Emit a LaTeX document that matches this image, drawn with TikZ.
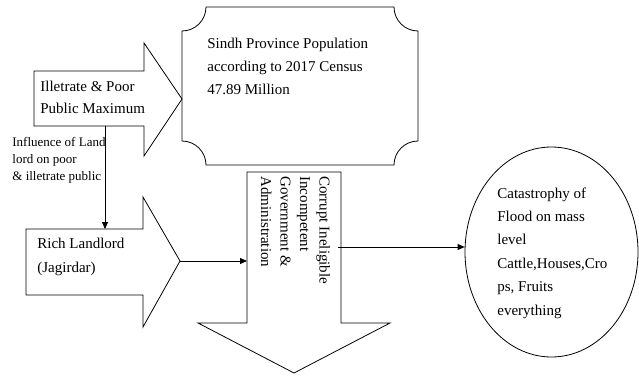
\documentclass[tikz,border=0pt]{standalone}
\usepackage{fontspec}
\setmainfont{Liberation Serif}
\usetikzlibrary{arrows.meta,shapes.geometric}

\begin{document}
\begin{tikzpicture}
  [x=1pt,y=-1pt,line width=.8pt,
   txt/.style={align=left,anchor=base west,inner sep=0pt,font=\fontsize{15}{23}\selectfont},
   small/.style={align=left,anchor=base west,inner sep=0pt,font=\fontsize{13}{17}\selectfont},
   tip/.style={-{Triangle[length=7pt,width=6pt]}}]

  \useasboundingbox (0,0) rectangle (639,375);

  % illetrate public
  \def\x{34}
  \def\y{71}

  \draw  (\x,\y) -- (\x +110,\y) -- (\x +110,\y -28) -- (\x +148,\y +28)
    -- (\x +110,\y +85) -- (\x +110,\y +55) -- (\x,\y +55) -- cycle;
  \node[txt,font=\fontsize{15}{22}\selectfont] (poor) at (\x +6,\y +42) {Illetrate \& Poor\\Public Maximum};
  \coordinate (poorout) at (\x +71,\y +55);

  % population
  \def\x{182}
  \def\y{7}
  \def\r{24pt}

  \draw  (\x,\y +24) arc[start angle=270,end angle=360,radius=\r] -- (\x +212,\y)
    arc[start angle=180,end angle=270,radius=\r] -- (\x +236,\y +134)
    arc[start angle=90,end angle=180,radius=\r] -- (\x +24,\y +158)
    arc[start angle=0,end angle=90,radius=\r] -- cycle;
  \node[txt] (sindh) at (\x +25,\y +87) {Sindh Province Population\\according to 2017 Census\\47.89 Million};

  \node[small] (influence) at (12,180) {Influence of Land\\lord on poor\\\& illetrate public};

  % landlord
  \def\x{26}
  \def\y{229}

  \draw  (\x,\y) -- (\x +117,\y) -- (\x +117,\y -32) -- (\x +154,\y +32)
    -- (\x +117,\y +98) -- (\x +117,\y +66) -- (\x,\y +66) -- cycle;
  \node[txt,font=\fontsize{15}{24}\selectfont] (rich) at (\x +11,\y +43) {Rich Landlord\\(Jagirdar)};
  \coordinate (richin) at (\x +79,\y);
  \coordinate (richtip) at (\x +154,\y +32);

  \draw[tip]  (poorout) -- (richin);

  % government
  \def\x{247}
  \def\y{172}

  \draw  (\x,\y) -- (\x +94,\y) -- (\x +94,\y +151) -- (\x +143,\y +151)
    -- (\x +47,\y +201) -- (\x -49,\y +151) -- (\x,\y +151) -- cycle;
  \node[txt,rotate=-90,font=\fontsize{15}{19.5}\selectfont] (gov) at (\x +14,\y +4)
    {Corrupt Ineligible\\Incompetent\\Government \&\\Administration};
  \coordinate (govleft) at (\x,\y +89);
  \coordinate (govright) at (\x +91,\y +75);

  \draw[tip]  (richtip) -- (govleft);

  % flood
  \node[draw,ellipse,minimum width=173pt,minimum height=210pt] (flood) at (551.5,252) {};
  \node[txt,font=\fontsize{15}{23.4}\selectfont] (floodtext) at (497,315)
    {Catastrophy of\\Flood on mass\\level\\Cattle,Houses,Cro\\ps, Fruits\\everything};

  \draw[tip]  (govright) -- (flood.west |- govright);
\end{tikzpicture}
\end{document}
